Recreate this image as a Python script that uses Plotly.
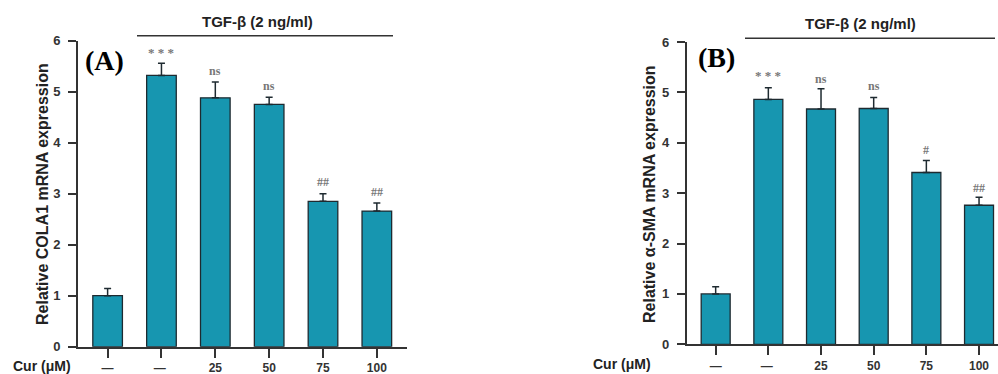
import plotly.graph_objects as go

categories = ["—", "— ", "25", "50", "75", "100"]
cola1_values = [1.00, 5.32, 4.88, 4.75, 2.85, 2.66]
cola1_errors = [0.14, 0.24, 0.31, 0.14, 0.15, 0.16]
cola1_marks = ["", "* * *", "ns", "ns", "##", "##"]
cola1_mark_y = [0, 5.76, 5.40, 5.11, 3.22, 3.03]

sma_values = [1.00, 4.86, 4.67, 4.68, 3.41, 2.76]
sma_errors = [0.14, 0.23, 0.40, 0.22, 0.24, 0.16]
sma_marks = ["", "* * *", "ns", "ns", "#", "##"]
sma_mark_y = [0, 5.34, 5.26, 5.12, 3.86, 3.11]

W, H = 998, 374
BAR = "#1796b0"
EDGE = "#1e2a30"
AX = "#333333"
FONT = "Arial, Liberation Sans, sans-serif"

def px(x):
    return x / W

def py(y):
    return 1 - y / H

fig = go.Figure()
xs = list(range(len(categories)))

for vals, errs, xa, ya in [(cola1_values, cola1_errors, "x", "y"),
                           (sma_values, sma_errors, "x2", "y2")]:
    fig.add_trace(go.Bar(
        x=xs, y=vals, width=0.55, xaxis=xa, yaxis=ya,
        marker=dict(color=BAR, line=dict(color=EDGE, width=1.3)),
        error_y=dict(type="data", array=errs, symmetric=False, arrayminus=[0]*len(errs),
                     color=EDGE, thickness=1.5, width=3.5),
        showlegend=False, hoverinfo="skip"))

axis_common = dict(showline=True, linecolor=AX, linewidth=1.6, ticks="outside",
                   tickcolor=AX, tickwidth=1.6, showgrid=False, zeroline=False,
                   automargin=False)
yfont = dict(family=FONT, size=13, color=AX, weight="bold")
xfont = dict(family=FONT, size=12, color=AX, weight="bold")

fig.update_layout(
    template="none",
    width=W, height=H, margin=dict(l=0, r=0, t=0, b=0),
    paper_bgcolor="white", plot_bgcolor="white", bargap=0.4,
    xaxis=dict(domain=[px(78), px(407)], range=[-0.55, 5.56], tickvals=xs,
               ticktext=categories, ticklen=9, ticklabelstandoff=0, anchor="y",
               tickfont=xfont, **axis_common),
    yaxis=dict(domain=[py(346.7), py(40.7)], range=[0, 6], tickvals=[0, 1, 2, 3, 4, 5, 6],
               ticklen=8, ticklabelstandoff=5, anchor="x", tickfont=yfont, **axis_common),
    xaxis2=dict(domain=[px(686.7), 1.0], range=[-0.55, 5.36], tickvals=xs,
                ticktext=categories, ticklen=9, ticklabelstandoff=0, anchor="y2",
                tickfont=xfont, **axis_common),
    yaxis2=dict(domain=[py(344.3), py(42)], range=[0, 6], tickvals=[0, 1, 2, 3, 4, 5, 6],
                ticklen=8, ticklabelstandoff=5, anchor="x2", tickfont=yfont, **axis_common),
)

ann = []
for marks, my, xa, ya in [(cola1_marks, cola1_mark_y, "x", "y"),
                          (sma_marks, sma_mark_y, "x2", "y2")]:
    for i, (m, yv) in enumerate(zip(marks, my)):
        if not m:
            continue
        ann.append(dict(x=i, y=yv, xref=xa, yref=ya, text=m, showarrow=False,
                        xanchor="center", yanchor="middle",
                        font=dict(family="Liberation Serif, Times New Roman, serif",
                                  size=12 if m != "* * *" else 13, color="#777777",
                                  weight="bold")))

# panel texts
for cx, cy, lx0, lx1, ly, label, lbx, lby, ytitle, ytx, cury, curx in [
    (257, 21, 137, 393, 35.7, "(A)", 104, 61, "Relative COLA1 mRNA expression", 42, 366, 42),
    (860, 23, 745, 995, 38.3, "(B)", 716, 58, "Relative α-SMA mRNA expression", 649, 364, 622),
]:
    common = dict(xref="paper", yref="paper", showarrow=False, xanchor="center", yanchor="middle")
    ann.append(dict(x=px(cx), y=py(cy), text="TGF-β (2 ng/ml)", **common,
                    font=dict(family=FONT, size=15, color="#222222", weight="bold")))
    fig.add_shape(type="line", xref="paper", yref="paper", x0=px(lx0), x1=px(lx1),
                  y0=py(ly), y1=py(ly), line=dict(color="#333333", width=1.5))
    ann.append(dict(x=px(lbx), y=py(lby), text=label, **common,
                    font=dict(family="Liberation Serif, Times New Roman, serif",
                              size=28, color="black", weight="bold")))
    ann.append(dict(x=px(ytx), y=py(194), text=ytitle, textangle=-90, **common,
                    font=dict(family=FONT, size=16, color="#222222", weight="bold")))
    ann.append(dict(x=px(curx), y=py(cury), text="Cur (μM)", **common,
                    font=dict(family=FONT, size=14, color="#222222", weight="bold")))

fig.update_layout(annotations=ann)
fig.write_html("out.html", config={"displayModeBar": False},
               post_script="document.body.style.margin='0';document.body.style.overflow='hidden';")
